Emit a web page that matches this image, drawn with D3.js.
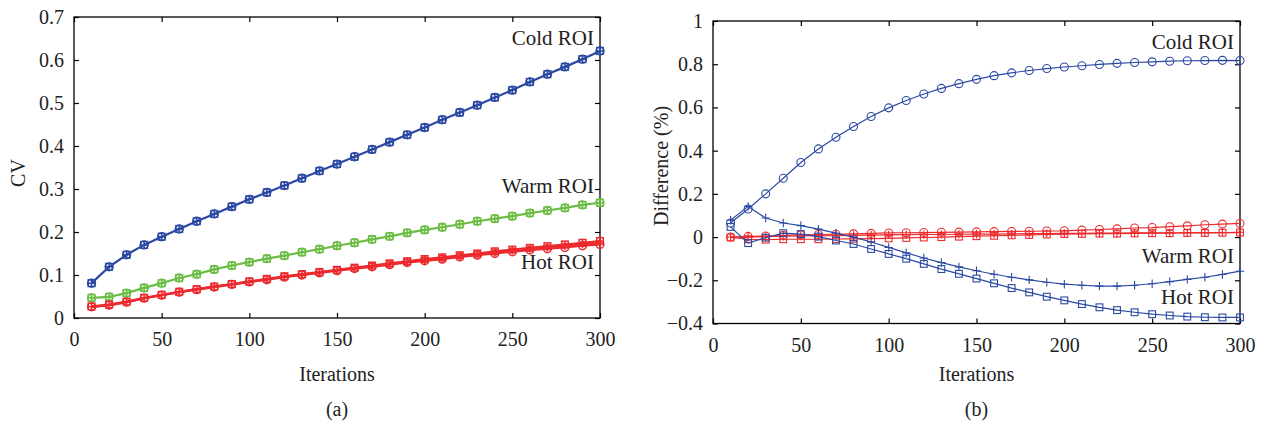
<!DOCTYPE html>
<html>
<head>
<meta charset="utf-8">
<script src="https://cdn.jsdelivr.net/npm/d3@7"></script>
<style>
  body { margin: 0; background: #fff; }
  text { font-family: "Liberation Serif", "Times New Roman", serif; fill: #222; }
</style>
</head>
<body>
<svg id="chart" width="1266" height="426"></svg>
<script>
// Iteration counts (x values shared by every series)
const iterations = [10,20,30,40,50,60,70,80,90,100,110,120,130,140,150,160,170,180,190,200,210,220,230,240,250,260,270,280,290,300];

// Panel (a): coefficient of variation per ROI
const cvCold = [0.081,0.119,0.147,0.170,0.189,0.207,0.225,0.242,0.259,0.276,0.292,0.308,0.325,0.342,0.358,0.375,0.392,0.409,0.426,0.443,0.461,0.478,0.495,0.513,0.530,0.549,0.567,0.584,0.602,0.621];
const cvWarm = [0.047,0.049,0.058,0.070,0.081,0.093,0.102,0.113,0.122,0.130,0.138,0.145,0.153,0.160,0.168,0.175,0.183,0.190,0.198,0.205,0.211,0.218,0.225,0.231,0.237,0.244,0.250,0.256,0.263,0.268];
const cvHotO = [0.026,0.030,0.037,0.046,0.053,0.060,0.066,0.072,0.078,0.084,0.089,0.095,0.100,0.105,0.110,0.115,0.119,0.124,0.129,0.133,0.137,0.142,0.146,0.150,0.154,0.158,0.161,0.164,0.168,0.171];
const cvHotP = [0.026,0.030,0.037,0.046,0.053,0.060,0.067,0.073,0.078,0.084,0.090,0.096,0.101,0.106,0.111,0.116,0.121,0.126,0.130,0.135,0.139,0.144,0.148,0.152,0.157,0.161,0.164,0.168,0.172,0.175];
const cvHotS = [0.027,0.031,0.038,0.047,0.054,0.061,0.067,0.073,0.079,0.085,0.091,0.097,0.102,0.107,0.112,0.117,0.122,0.127,0.132,0.137,0.141,0.146,0.150,0.155,0.159,0.163,0.167,0.171,0.175,0.179];

// Panel (b): difference (%)
const diffBlueO = [0.065,0.130,0.200,0.272,0.345,0.408,0.462,0.512,0.558,0.598,0.632,0.662,0.688,0.710,0.730,0.747,0.760,0.771,0.780,0.787,0.793,0.799,0.804,0.808,0.811,0.814,0.816,0.817,0.818,0.817];
const diffBlueP = [0.078,0.142,0.088,0.065,0.053,0.037,0.018,0.000,-0.023,-0.048,-0.073,-0.097,-0.118,-0.138,-0.156,-0.172,-0.186,-0.198,-0.209,-0.218,-0.223,-0.227,-0.227,-0.223,-0.216,-0.206,-0.196,-0.186,-0.173,-0.158];
const diffBlueS = [0.047,-0.028,-0.003,0.018,0.014,0.002,-0.016,-0.032,-0.055,-0.078,-0.100,-0.124,-0.148,-0.170,-0.192,-0.214,-0.236,-0.256,-0.276,-0.293,-0.310,-0.325,-0.338,-0.348,-0.357,-0.363,-0.368,-0.371,-0.372,-0.372];
const diffRedO = [0.000,0.003,0.005,0.008,0.010,0.012,0.013,0.015,0.017,0.019,0.020,0.021,0.022,0.023,0.024,0.025,0.026,0.027,0.028,0.029,0.032,0.035,0.038,0.042,0.044,0.048,0.052,0.057,0.060,0.063];
const diffRedP = [0.000,0.000,0.002,0.004,0.005,0.006,0.007,0.008,0.009,0.010,0.011,0.012,0.012,0.013,0.014,0.014,0.015,0.016,0.016,0.017,0.017,0.018,0.018,0.019,0.019,0.020,0.020,0.021,0.021,0.022];
const diffRedS = [-0.002,-0.010,-0.012,-0.010,-0.010,-0.010,-0.009,-0.008,-0.007,-0.006,-0.004,-0.002,0.000,0.002,0.004,0.006,0.008,0.010,0.012,0.014,0.015,0.016,0.016,0.017,0.018,0.018,0.019,0.019,0.020,0.021];

// Tick values
const xTicks = [0,50,100,150,200,250,300];
const cvTicks = [0,0.1,0.2,0.3,0.4,0.5,0.6,0.7];
const diffTicks = [-0.4,-0.2,0,0.2,0.4,0.6,0.8,1];

const BLUE = "#2b49a3", GREEN = "#6cbd45", RED = "#ec2a2d";
const FONT = 20;
const svg = d3.select("#chart");
svg.append("rect").attr("width", 1266).attr("height", 426).attr("fill", "#fff");

function panel(cfg) {
  const x = d3.scaleLinear().domain([0, 300]).range([cfg.left, cfg.right]);
  const y = d3.scaleLinear().domain(cfg.yDomain).range([cfg.bottom, cfg.top]);
  const g = svg.append("g");
  const tickLen = 5;

  // ticks on all four sides, pointing inward
  const ax = [
    [d3.axisBottom(x).tickValues(xTicks).tickSizeInner(-tickLen).tickSizeOuter(0).tickPadding(14), `translate(0,${cfg.bottom})`, true],
    [d3.axisTop(x).tickValues(xTicks).tickSizeInner(-tickLen).tickSizeOuter(0), `translate(0,${cfg.top})`, false],
    [d3.axisLeft(y).tickValues(cfg.yTicks).tickSizeInner(-tickLen).tickSizeOuter(0).tickPadding(10).tickFormat(cfg.yFmt), `translate(${cfg.left},0)`, true],
    [d3.axisRight(y).tickValues(cfg.yTicks).tickSizeInner(-tickLen).tickSizeOuter(0), `translate(${cfg.right},0)`, false]
  ];
  ax.forEach(([a, t, labels]) => {
    const s = g.append("g").attr("transform", t).call(a);
    s.select(".domain").remove();
    s.selectAll(".tick line").attr("stroke", "#000").attr("stroke-width", 1.2);
    s.selectAll(".tick text").attr("font-size", FONT).attr("fill", "#222")
      .style("font-family", '"Liberation Serif", serif');
    if (!labels) s.selectAll(".tick text").remove();
  });
  g.append("rect")
    .attr("x", cfg.left).attr("y", cfg.top)
    .attr("width", cfg.right - cfg.left).attr("height", cfg.bottom - cfg.top)
    .attr("fill", "none").attr("stroke", "#000").attr("stroke-width", 1.3);

  const line = d3.line().x((d, i) => x(iterations[i])).y(d => y(d));
  cfg.series.forEach(s => {
    const sg = g.append("g");
    sg.append("path").datum(s.values).attr("d", line)
      .attr("fill", "none").attr("stroke", s.color).attr("stroke-width", cfg.lw);
    s.markers.forEach(m => {
      const pts = sg.selectAll(null).data(s.values).enter();
      const mx = (d, i) => x(iterations[i]);
      if (m === "o") {
        pts.append("circle").attr("cx", mx).attr("cy", d => y(d)).attr("r", cfg.ms)
          .attr("fill", "none").attr("stroke", s.color).attr("stroke-width", cfg.mw);
      } else if (m === "s") {
        const h = cfg.ms * 0.85;
        pts.append("rect").attr("x", (d, i) => mx(d, i) - h).attr("y", d => y(d) - h)
          .attr("width", 2 * h).attr("height", 2 * h)
          .attr("fill", "none").attr("stroke", s.color).attr("stroke-width", cfg.mw);
      } else {
        const h = cfg.ms * 1.05;
        pts.append("path")
          .attr("d", (d, i) => {
            const cx = mx(d, i), cy = y(d);
            return `M${cx - h},${cy}H${cx + h}M${cx},${cy - h}V${cy + h}`;
          })
          .attr("fill", "none").attr("stroke", s.color).attr("stroke-width", cfg.mw);
      }
    });
  });

  // axis titles and panel caption
  const cx = (cfg.left + cfg.right) / 2;
  g.append("text").attr("x", cx).attr("y", 381).attr("text-anchor", "middle")
    .attr("font-size", FONT).text("Iterations");
  g.append("text").attr("x", cx).attr("y", 416).attr("text-anchor", "middle")
    .attr("font-size", FONT).text(cfg.caption);
  g.append("text")
    .attr("transform", `translate(${cfg.yLabelX},${cfg.yLabelY}) rotate(-90)`)
    .attr("text-anchor", "middle").attr("font-size", FONT).text(cfg.yLabel);

  cfg.notes.forEach(n => {
    g.append("text").attr("x", cfg.right - 6).attr("y", n.y)
      .attr("text-anchor", "end").attr("font-size", 21).text(n.text);
  });
}

panel({
  left: 74, right: 600, top: 17, bottom: 318,
  yDomain: [0, 0.7], yTicks: cvTicks, yFmt: d3.format(".1~f"),
  yLabel: "CV", yLabelX: 25, yLabelY: 173, caption: "(a)",
  lw: 2.2, ms: 3.9, mw: 1.5,
  series: [
    { values: cvCold, color: BLUE, markers: ["o", "p", "s"] },
    { values: cvWarm, color: GREEN, markers: ["o", "p", "s"] },
    { values: cvHotO, color: RED, markers: ["o"] },
    { values: cvHotP, color: RED, markers: ["p"] },
    { values: cvHotS, color: RED, markers: ["s"] }
  ],
  notes: [
    { text: "Cold ROI", y: 45 },
    { text: "Warm ROI", y: 193 },
    { text: "Hot ROI", y: 269 }
  ]
});

panel({
  left: 713, right: 1240, top: 21, bottom: 323.5,
  yDomain: [-0.4, 1], yTicks: diffTicks, yFmt: d => d3.format(".1~f")(d).replace("-", "\u2212"),
  yLabel: "Difference (%)", yLabelX: 668, yLabelY: 166, caption: "(b)",
  lw: 1.2, ms: 4, mw: 1.1,
  series: [
    { values: diffRedS, color: RED, markers: ["s"] },
    { values: diffRedP, color: RED, markers: ["p"] },
    { values: diffRedO, color: RED, markers: ["o"] },
    { values: diffBlueS, color: BLUE, markers: ["s"] },
    { values: diffBlueP, color: BLUE, markers: ["p"] },
    { values: diffBlueO, color: BLUE, markers: ["o"] }
  ],
  notes: [
    { text: "Cold ROI", y: 49 },
    { text: "Warm ROI", y: 263 },
    { text: "Hot ROI", y: 304 }
  ]
});
</script>
</body>
</html>
